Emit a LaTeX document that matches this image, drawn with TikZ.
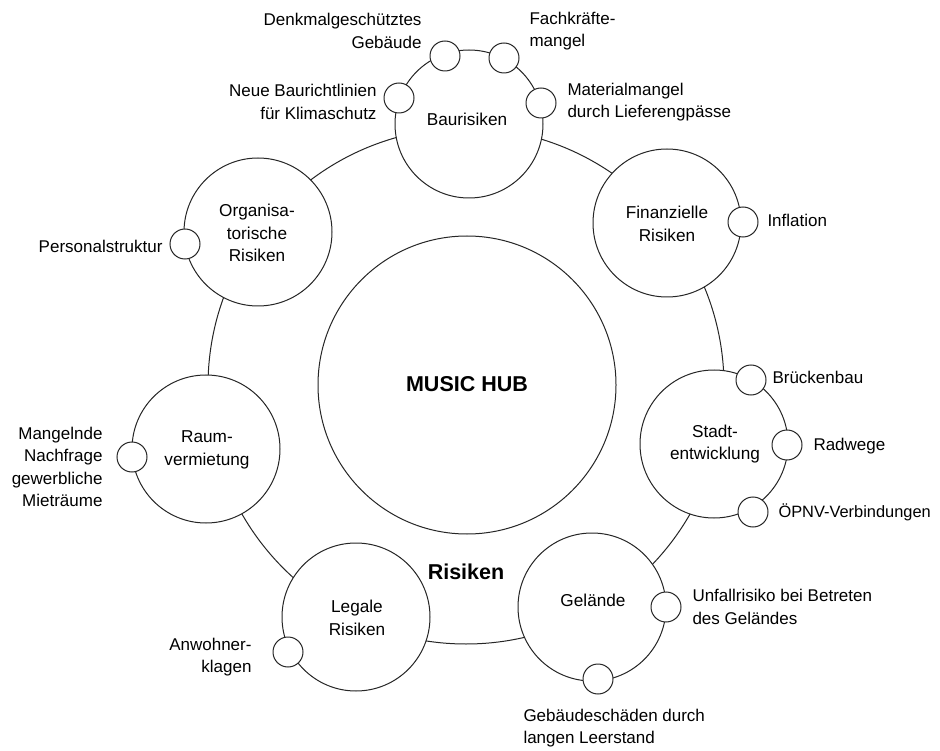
\documentclass[tikz,border=0pt]{standalone}
\usepackage{fontspec}
\setmainfont{Liberation Sans}
\begin{document}
\begin{tikzpicture}[x=1pt,y=-1pt,
  line width=1pt,
  outline/.style={draw=black!85},
  hub/.style={circle,outline,fill=white,minimum size=298pt,inner sep=0pt},
  area/.style={circle,outline,fill=white,minimum size=148pt,inner sep=0pt},
  dot/.style={circle,outline,fill=white,minimum size=30pt,inner sep=0pt},
  areatext/.style={inner sep=0pt,align=center,font=\fontsize{17.2}{22.5}\selectfont},
  lbl/.style={inner sep=0pt,font=\fontsize{17}{22.5}\selectfont},
  lblL/.style={lbl,anchor=west,align=left},
  lblR/.style={lbl,anchor=east,align=right},
  title/.style={inner sep=0pt,font=\fontsize{21.5}{26}\selectfont\bfseries},
]
\useasboundingbox[fill=white] (0,0) rectangle (940,751);

% ring linking the risk areas
\coordinate (ringc) at (466,386);
\draw[outline] (ringc) circle[radius=258pt];

% central hub
\node[hub] (hub) at (467,385) {};
\node[title] (t-hub) at (467,384) {MUSIC HUB};
\node[title] (t-risiken) at (466,572) {Risiken};

% risk areas
\node[area] (bau)   at (469,124) {};
\node[area] (fin)   at (667,223) {};
\node[area] (stadt) at (714,444) {};
\node[area] (gel)   at (592,607) {};
\node[area] (leg)   at (356,617) {};
\node[area] (raum)  at (206,449) {};
\node[area] (org)   at (258,232) {};

\node[areatext] (t-bau)   at (467,119) {Baurisiken};
\node[areatext] (t-fin)   at (667,224) {Finanzielle\\Risiken};
\node[areatext] (t-stadt) at (715,444) {Stadt-\\entwicklung};
\node[areatext] (t-gel)   at (593,600) {Gelände};
\node[areatext] (t-leg)   at (357,618) {Legale\\Risiken};
\node[areatext] (t-raum)  at (207,450) {Raum-\\vermietung};
\node[areatext] (t-org)   at (257,233) {Organisa-\\torische\\Risiken};

% individual risks
\node[dot] (d-denkmal)  at (445,56) {};
\node[dot] (d-fach)     at (504,58) {};
\node[dot] (d-neue)     at (399,98) {};
\node[dot] (d-material) at (541,103) {};
\node[dot] (d-personal) at (185,244) {};
\node[dot] (d-inflation) at (743,222) {};
\node[dot] (d-bruecke)  at (751,380) {};
\node[dot] (d-rad)      at (787,445) {};
\node[dot] (d-oepnv)    at (753,512) {};
\node[dot] (d-mangel)   at (132,457) {};
\node[dot] (d-anwohner) at (288,652) {};
\node[dot] (d-unfall)   at (666,607) {};
\node[dot] (d-gebaeude) at (598,679) {};

\node[lblR] (l-denkmal)  at (422,31)  {Denkmalgeschütztes\\Gebäude};
\node[lblL] (l-fach)     at (529,31)  {Fachkräfte-\\mangel};
\node[lblR] (l-neue)     at (377,102) {Neue Baurichtlinien\\für Klimaschutz};
\node[lblL] (l-material) at (567,102) {Materialmangel\\durch Lieferengpässe};
\node[lblR] (l-personal) at (163,246) {Personalstruktur};
\node[lblL] (l-inflation) at (767,220) {Inflation};
\node[lblL] (l-bruecke)  at (772,377) {Brückenbau};
\node[lblL] (l-rad)      at (813,446) {Radwege};
\node[lblL,font=\fontsize{16.4}{22.5}\selectfont] (l-oepnv) at (778,512) {ÖPNV-Verbindungen};
\node[lblR] (l-mangel)   at (103,467) {Mangelnde\\Nachfrage\\gewerbliche\\Mieträume};
\node[lblR] (l-anwohner) at (252,657) {Anwohner-\\klagen};
\node[lblL] (l-unfall)   at (692,607) {Unfallrisiko bei Betreten\\des Geländes};
\node[lblL] (l-gebaeude) at (523,728) {Gebäudeschäden durch\\langen Leerstand};
\end{tikzpicture}
\end{document}
